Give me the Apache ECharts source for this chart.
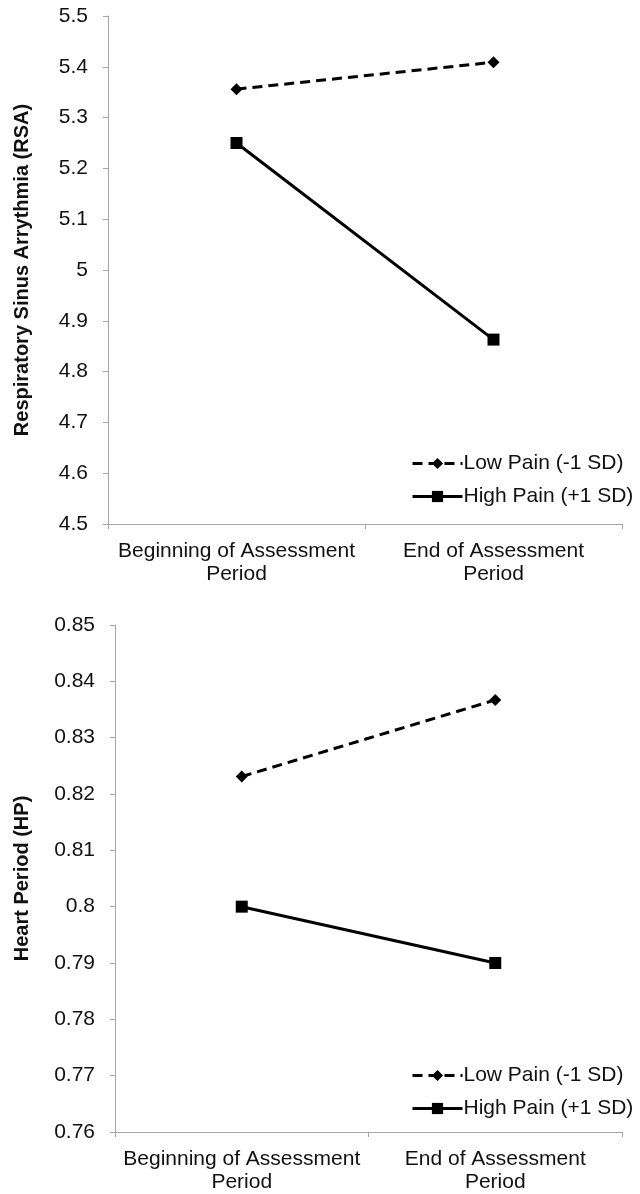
<!DOCTYPE html>
<html>
<head>
<meta charset="utf-8">
<script src="https://cdn.jsdelivr.net/npm/echarts@6/dist/echarts.min.js"></script>
<style>
html,body{margin:0;padding:0;background:#fff;}
#chart{width:640px;height:1194px;}
</style>
</head>
<body>
<div id="chart"></div>
<script>
const categories = ['Beginning of Assessment\nPeriod', 'End of Assessment\nPeriod'];
const seriesNames = ['Low Pain (-1 SD)', 'High Pain (+1 SD)'];
const rsaLow = [5.356, 5.409];
const rsaHigh = [5.250, 4.863];
const hpLow = [0.8231, 0.8367];
const hpHigh = [0.8000, 0.7900];
const rsaTitle = 'Respiratory Sinus Arrythmia (RSA)';
const hpTitle = 'Heart Period (HP)';

const FONT = "'Liberation Sans', Arial, sans-serif";
const axisGray = '#a6a6a6';
const textColor = '#111';

function xAxisCfg(gi) {
  return {
    type: 'category', gridIndex: gi, data: categories, boundaryGap: true,
    axisLine: {lineStyle: {color: axisGray, width: 1}},
    axisTick: {show: true, length: 5, lineStyle: {color: axisGray}},
    axisLabel: {color: textColor, fontFamily: FONT, fontSize: 21, lineHeight: 23, margin: 16, interval: 0}
  };
}
function yAxisCfg(gi, min, max, interval, dec, name, gap) {
  return {
    type: 'value', gridIndex: gi, min: min, max: max, interval: interval,
    name: name, nameLocation: 'middle', nameRotate: 90, nameGap: gap,
    nameTextStyle: {color: textColor, fontFamily: FONT, fontSize: 20, fontWeight: 'bold'},
    axisLine: {show: true, lineStyle: {color: axisGray, width: 1}},
    axisTick: {show: true, length: 5, lineStyle: {color: axisGray}},
    splitLine: {show: false},
    axisLabel: {color: textColor, fontFamily: FONT, fontSize: 21, margin: 20,
      formatter: v => String(+v.toFixed(dec))}
  };
}
function lineSeries(name, data, gi, dashed) {
  return {
    name: name, type: 'line', xAxisIndex: gi, yAxisIndex: gi, data: data,
    symbol: dashed ? 'diamond' : 'rect', symbolSize: 12,
    lineStyle: {color: '#000', width: 3, type: dashed ? [10, 6] : 'solid'},
    itemStyle: {color: '#000'},
    animation: false
  };
}
function legendCfg(top) {
  return {
    orient: 'vertical', left: 406, top: top, itemWidth: 50, itemHeight: 14, itemGap: 12,
    data: seriesNames,
    lineStyle: {width: 3},
    textStyle: {color: textColor, fontFamily: FONT, fontSize: 21, lineHeight: 20, padding: [0,0,0,-4]},
    inactiveColor: '#000'
  };
}

const chart = echarts.init(document.getElementById('chart'), null, {renderer: 'canvas'});
chart.setOption({
  backgroundColor: '#fff',
  animation: false,
  grid: [
    {left: 108, right: 18, top: 16, height: 508},
    {left: 115, right: 18, top: 625, height: 507}
  ],
  xAxis: [xAxisCfg(0), xAxisCfg(1)],
  yAxis: [
    yAxisCfg(0, 4.5, 5.5, 0.1, 1, rsaTitle, 76),
    yAxisCfg(1, 0.76, 0.85, 0.01, 2, hpTitle, 83)
  ],
  legend: [legendCfg(448), legendCfg(1060)],
  series: [
    lineSeries(seriesNames[0], rsaLow, 0, true),
    lineSeries(seriesNames[1], rsaHigh, 0, false),
    lineSeries(seriesNames[0], hpLow, 1, true),
    lineSeries(seriesNames[1], hpHigh, 1, false)
  ]
});
</script>
</body>
</html>
